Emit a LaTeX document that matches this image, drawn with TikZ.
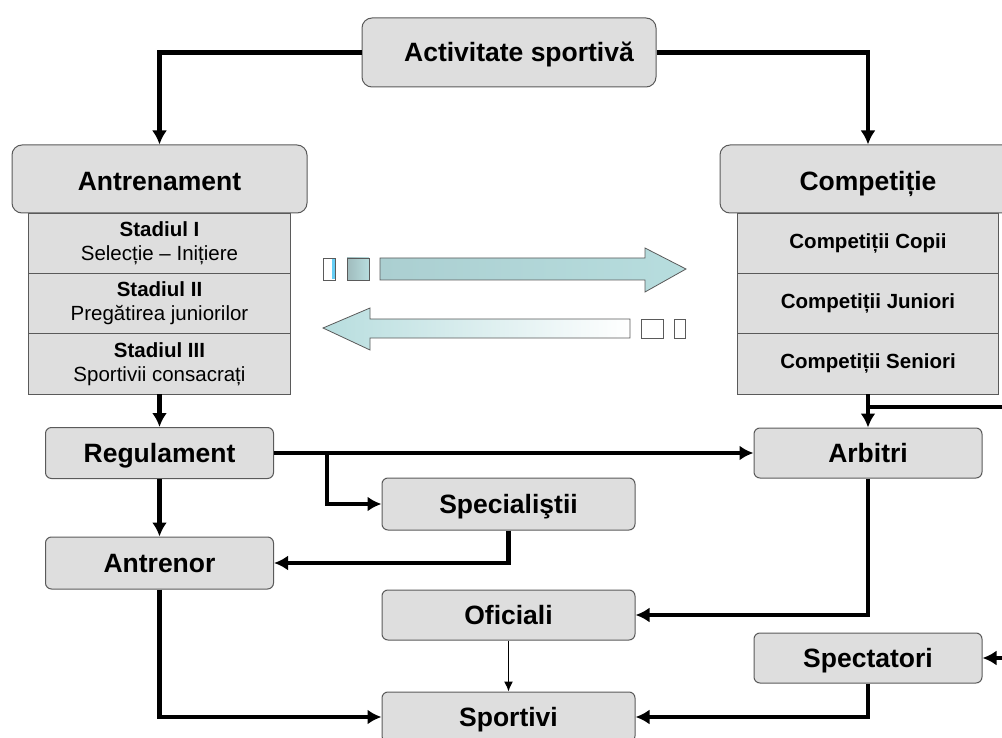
\documentclass[tikz,border=0pt]{standalone}
\usepackage{fontspec}
\setmainfont{Liberation Sans}
\usetikzlibrary{shapes,arrows.meta,positioning}
\definecolor{boxgray}{HTML}{DEDEDE}
\definecolor{edgegray}{HTML}{5A5A5A}
\definecolor{tealA}{HTML}{ABCFD1}
\definecolor{tealB}{HTML}{B7DDDE}

\begin{document}
\begin{tikzpicture}[x=1pt,y=-1pt,
	box/.style={draw=edgegray,fill=boxgray,line width=1pt,rounded corners=6pt,minimum width=228pt,minimum height=51pt,inner sep=0pt,text height=19pt,text depth=0pt,font=\fontsize{26.5}{30}\selectfont\bfseries},
	topbox/.style={box,rounded corners=10pt,minimum width=295pt,minimum height=68pt,text height=23.6pt},
	row/.style={draw=edgegray,fill=boxgray,line width=1pt,minimum width=262pt,minimum height=60.33pt,inner sep=0pt,outer sep=0pt,align=center,font=\fontsize{20.5}{24}\selectfont},
	crow/.style={row,minimum width=261pt,font=\fontsize{20.5}{24}\selectfont\bfseries},
	conn/.style={line width=4.2pt,-{Latex[length=14pt,width=15pt]}},
	thinconn/.style={line width=1.3pt,-{Latex[length=10pt,width=9pt]}},
	flow/.style={draw=edgegray,line width=0.8pt}]
	\useasboundingbox (0,0) rectangle (1002,738);
	\clip (0,0) rectangle (1002,738);
	% the three top boxes
	\node[topbox,minimum width=294pt,minimum height=69pt,text height=19pt] (act) at (509,52.5) {\hspace*{20pt}Activitate sportivă};
	\node[topbox] (antrm) at (159.5,179) {Antrenament};
	\node[topbox,minimum width=296pt] (comp) at (868,179) {Competiție};
	%% the stages
	\node[row] (st1) at (159.5,243.2) {\textbf{Stadiul I}\\Selecție – Inițiere};
	\node[row,below=0pt of st1] (st2) {\textbf{Stadiul II}\\Pregătirea juniorilor};
	\node[row,below=0pt of st2] (st3) {\textbf{Stadiul III}\\Sportivii consacrați};
	\node[crow] (cc1) at (868,243.2) {Competiții Copii};
	\node[crow,below=0pt of cc1] (cc2) {Competiții Juniori};
	\node[crow,below=0pt of cc2] (cc3) {Competiții Seniori};
	%% the lower boxes
	\node[box] (reg) at (159.5,453) {Regulament};
	\node[box,minimum width=253pt,minimum height=52pt] (spec) at (508.5,504) {Specialiştii};
	\node[box,minimum height=52pt] (antrn) at (159.5,563) {Antrenor};
	\node[box,minimum width=253pt,minimum height=50pt] (ofic) at (508.5,615) {Oficiali};
	\node[box,minimum width=253pt,minimum height=50pt] (sport) at (508.5,717) {Sportivi};
	\node[box,minimum height=50pt] (arb) at (868,453) {Arbitri};
	\node[box,minimum height=50pt] (spect) at (868,658) {Spectatori};
	% the two transfer arrows
	\draw[flow,fill=white] (323,258) rectangle (335,280);
	\fill[cyan!60] (332,259) rectangle (334.5,279);
	\shade[flow,left color=tealA!75!gray,right color=tealB] (347,258) rectangle (369,280);
	\shade[flow,left color=tealA,right color=tealB] (380,258) -- (645,258) -- (645,248) -- (686,269) -- (645,292) -- (645,280) -- (380,280) -- cycle;
	\shade[flow,left color=tealB,right color=white] (323,328) -- (370,308) -- (370,319) -- (630,319) -- (630,338) -- (370,338) -- (370,350) -- cycle;
	\draw[flow,fill=white] (641,319) rectangle (663,338);
	\draw[flow,fill=white] (674,319) rectangle (685,338);
	% connectors
	\coordinate (regj) at (327,453);
	\coordinate (offR) at (1016,407);
	\draw[conn] (act.west) -| (antrm.north);
	\draw[conn] (act.east) -| (comp.north);
	\draw[conn] (st3.south) -- (reg.north);
	\draw[conn] (cc3.south) -- (arb.north);
	\draw[conn] (cc3.south |- offR) -- (offR) |- (spect.east);
	\draw[conn] (reg.east) -- (arb.west);
	\draw[conn] (regj) |- (spec.west);
	\draw[conn] (reg.south) -- (antrn.north);
	\draw[conn] (spec.south) |- (antrn.east);
	\draw[conn] (antrn.south) |- (sport.west);
	\draw[thinconn] (ofic.south) -- (sport.north);
	\draw[conn] (arb.south) |- (ofic.east);
	\draw[conn] (spect.south) |- (sport.east);
\end{tikzpicture}
\end{document}
